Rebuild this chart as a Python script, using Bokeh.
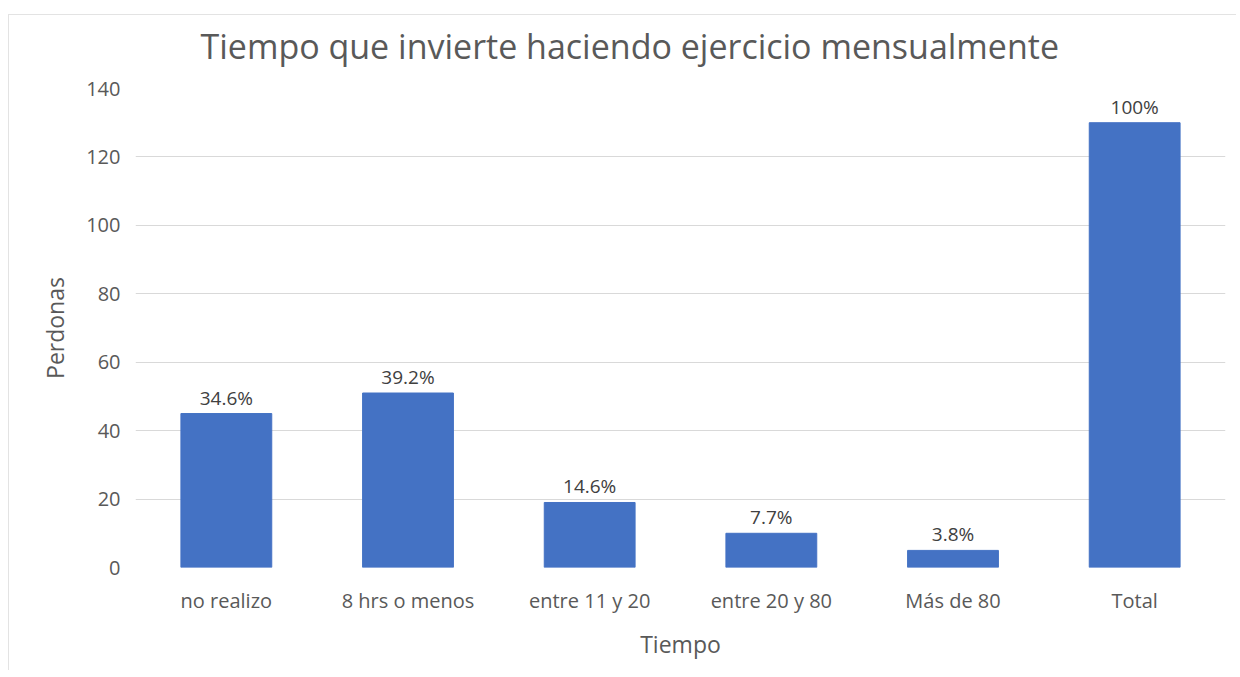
from bokeh.plotting import figure
from bokeh.models import ColumnDataSource, Range1d, FixedTicker, LabelSet
from bokeh.core.properties import value
from bokeh.embed import file_html
from bokeh.resources import INLINE

categories = ["no realizo", "8 hrs o menos", "entre 11 y 20", "entre 20 y 80", "Más de 80", "Total"]
personas = [45, 51, 19, 10, 5, 130]
porcentajes = ["34.6%", "39.2%", "14.6%", "7.7%", "3.8%", "100%"]
y_ticks = [0, 20, 40, 60, 80, 100, 120, 140]

FONT = "Open Sans"
GREY = "#595959"
EDGE = "#e3e3e3"

src = ColumnDataSource(dict(cat=categories, val=personas, lab=porcentajes))

p = figure(x_range=categories, y_range=Range1d(0, 140), width=1236, height=670,
           output_backend="svg", toolbar_location=None,
           min_border_left=135, min_border_right=11, min_border_top=88, min_border_bottom=103,
           background_fill_color=None, border_fill_color=None,
           styles={
               "background-color": "white",
               "background-image": f"linear-gradient({EDGE},{EDGE}), linear-gradient({EDGE},{EDGE})",
               "background-size": "1px 100%, 100% 1px",
               "background-position": "8px 14px, 8px 14px",
               "background-repeat": "no-repeat",
           })

p.vbar(x="cat", top="val", width=0.5, source=src, fill_color="#4472C4", line_color="#4472C4")

labels = LabelSet(x="cat", y="val", text="lab", source=src, text_align="center",
                  text_baseline="bottom", y_offset=3, text_font_size="19px",
                  text_color="#404040", text_font=value(FONT))
p.add_layout(labels)

p.title.text = "Tiempo que invierte haciendo ejercicio mensualmente"
p.title.text_font = FONT
p.title.text_font_size = "34px"
p.title.text_font_style = "normal"
p.title.text_color = GREY
p.title.align = "left"
p.title.offset = 65
p.title.text_line_height = 1.0
p.title.standoff = 39

p.yaxis.ticker = FixedTicker(ticks=y_ticks)
p.yaxis.axis_label = "Perdonas"
p.xaxis.axis_label = "Tiempo"
for ax in (p.xaxis, p.yaxis):
    ax.axis_line_color = None
    ax.major_tick_line_color = None
    ax.minor_tick_line_color = None
    ax.major_label_text_font = FONT
    ax.major_label_text_font_size = "20px"
    ax.major_label_text_color = GREY
    ax.axis_label_text_font = FONT
    ax.axis_label_text_font_size = "23px"
    ax.axis_label_text_font_style = "normal"
    ax.axis_label_text_color = GREY
p.yaxis.major_label_standoff = 9
p.yaxis.axis_label_standoff = 12
p.xaxis.major_label_standoff = 13
p.xaxis.axis_label_standoff = 11

p.xgrid.grid_line_color = None
p.ygrid.grid_line_color = "#d9d9d9"
p.ygrid.grid_line_width = 1
p.outline_line_color = None
p.x_range.range_padding = 0

open("out.html", "w").write(file_html(p, INLINE))
